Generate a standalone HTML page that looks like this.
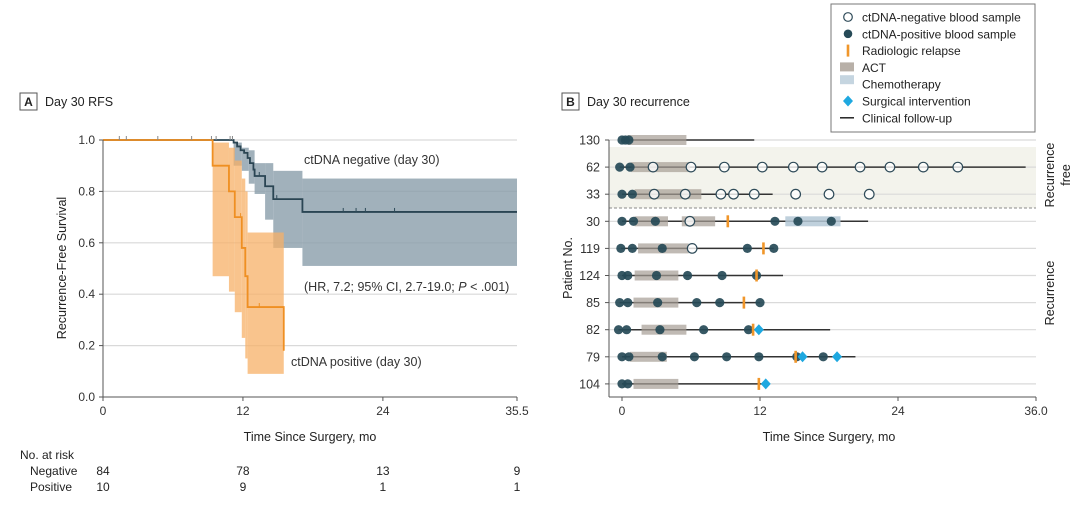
<!DOCTYPE html>
<html><head><meta charset="utf-8"><style>
body{margin:0;background:#fff;}
svg{display:block;font-family:"Liberation Sans",sans-serif;}
</style></head><body>
<svg id="chart" width="1080" height="514" viewBox="0 0 1080 514"></svg>
<script>
// ---------- Panel A data ----------
const posTimes=[0,9.4,10.8,11.3,11.9,12.2,12.4,15.5];
const posSurv=[1.0,0.9,0.8,0.7,0.58,0.47,0.35,0.18];
const posCiStart=[9.4,10.8,11.3,11.9,12.2,12.4];
const posCiEnd=[10.8,11.3,11.9,12.2,12.4,15.5];
const posCiLo=[0.47,0.41,0.33,0.23,0.15,0.09];
const posCiHi=[0.99,0.97,0.92,0.85,0.80,0.64];
const negTimes=[0,11.2,11.5,11.8,12.1,12.4,12.6,12.9,13.0,13.9,14.6,17.1,35.5];
const negSurv=[1.0,0.99,0.975,0.96,0.95,0.93,0.91,0.885,0.86,0.82,0.77,0.72,0.72];
const negCiStart=[11.2,11.9,12.5,13.0,13.9,14.6,17.1];
const negCiEnd=[11.9,12.5,13.0,13.9,14.6,17.1,35.5];
const negCiLo=[0.90,0.88,0.83,0.79,0.69,0.58,0.51];
const negCiHi=[0.99,0.97,0.96,0.91,0.91,0.88,0.85];
const censorTopTimes=[1.4,2.0,4.7,7.6,9.3,9.7,10.9,11.1];
const negCensorTimes=[13.4,14.9,20.6,21.7,22.5,25.0];
const negCensorVals=[0.86,0.77,0.72,0.72,0.72,0.72];
const posCensorTimes=[11.8,13.4];
const posCensorVals=[0.7,0.35];
const aXTicks=[0,12,24,35.5];
const aYTicks=[0,0.2,0.4,0.6,0.8,1.0];
const riskNeg=[84,78,13,9];
const riskPos=[10,9,1,1];
// ---------- Panel B data ----------
const patients=["130","62","33","30","119","124","85","82","79","104"];
const followStart=[0,-0.2,0,0,-0.1,0,-0.2,-0.3,0,0];
const followEnd=[11.5,35.1,13.1,21.4,13.2,14.0,12.0,18.1,20.3,12.5];
const actStart=[[0.5],[0.8],[1.1],[1.1,5.2],[1.4],[1.1],[1.0],[1.7],[0.7],[1.0]];
const actEnd=[[5.6],[5.9],[6.9],[4.0,8.1],[5.8],[4.9],[4.9],[5.6],[3.9],[4.9]];
const chemoStart=[[],[],[],[14.2],[],[],[],[],[],[]];
const chemoEnd=[[],[],[],[19.0],[],[],[],[],[],[]];
const posSamples=[[0,0.3,0.6],[-0.2,0.7],[0,0.9],[0,1.0,2.9,13.3,15.3,18.2],[-0.1,0.9,3.5,10.9,13.2],[0,0.5,3.0,5.7,8.7,11.7],[-0.2,0.5,3.1,6.5,8.5,12.0],[-0.3,0.4,3.3,7.1,11.0],[0,0.6,3.5,6.3,9.1,11.9,15.2,17.5],[0,0.5]];
const negSamples=[[],[2.7,6.0,8.9,12.2,14.9,17.4,20.7,23.3,26.2,29.2],[2.8,5.5,8.6,9.7,11.5,15.1,18.0,21.5],[5.9],[6.1],[],[],[],[],[]];
const relapses=[[],[],[],[9.2],[12.3],[11.7],[10.6],[11.4],[15.1],[11.9]];
const surgeries=[[],[],[],[],[],[],[],[11.9],[15.7,18.7],[12.5]];
const bXTicks=[0,12,24,36];

const svg=document.getElementById('chart');
const NS='http://www.w3.org/2000/svg';
function mk(tag,attrs,parent,text){const e=document.createElementNS(NS,tag);for(const k in attrs)e.setAttribute(k,attrs[k]);if(text!==undefined)e.textContent=text;(parent||svg).appendChild(e);return e;}

// ---------- Panel A ----------
const ax=t=>103+t*(517-103)/35.5;
const ay=v=>397-v*(397-140);
const gA=mk('g',{});


let r=mk('rect',{x:20,y:93,width:17,height:17,fill:'#fff',stroke:'#555'},gA);

let t=mk('text',{x:28.5,y:106,'font-size':12,'font-weight':'bold','text-anchor':'middle',fill:'#222'},gA,'A');

t=mk('text',{x:45,y:106,'font-size':12.5,fill:'#222'},gA,'Day 30 RFS');

aYTicks.forEach(v=>{
 if(v>0){const l=mk('line',{x1:ax(0),x2:ax(35.5),y1:ay(v),y2:ay(v),stroke:'#d9d9d9','stroke-width':1.2},gA);
 }
 mk('line',{x1:ax(0)-4,x2:ax(0),y1:ay(v),y2:ay(v),stroke:'#555'},gA);
 const tx=mk('text',{x:95,y:ay(v)+4,'font-size':12,'text-anchor':'end',fill:'#333'},gA,v.toFixed(1));
 
});
aXTicks.forEach(v=>{
 mk('line',{x1:ax(v),x2:ax(v),y1:397,y2:401,stroke:'#555'},gA);
 const tx=mk('text',{x:ax(v),y:415,'font-size':12,'text-anchor':'middle',fill:'#333'},gA,String(v));
 
});
negCiStart.forEach((s,i)=>{const b=mk('rect',{x:ax(s),y:ay(negCiHi[i]),width:ax(negCiEnd[i])-ax(s),height:ay(negCiLo[i])-ay(negCiHi[i]),fill:'#8a9eaa','fill-opacity':0.8},gA);
 });
posCiStart.forEach((s,i)=>{const b=mk('rect',{x:ax(s),y:ay(posCiHi[i]),width:ax(posCiEnd[i])-ax(s),height:ay(posCiLo[i])-ay(posCiHi[i]),fill:'#f7b067','fill-opacity':0.75},gA);
 });
function stepPath(ts,vs){let d='M'+ax(ts[0])+','+ay(vs[0]);for(let i=1;i<ts.length;i++){d+=' H'+ax(ts[i])+' V'+ay(vs[i]);}return d;}
let p=mk('path',{d:stepPath(negTimes,negSurv),fill:'none',stroke:'#2a4553','stroke-width':1.8},gA);

p=mk('path',{d:stepPath(posTimes,posSurv),fill:'none',stroke:'#ef8f22','stroke-width':1.8},gA);

censorTopTimes.forEach(c=>mk('line',{x1:ax(c),x2:ax(c),y1:ay(1)-4,y2:ay(1),stroke:'#888'},gA));
negCensorTimes.forEach((c,i)=>mk('line',{x1:ax(c),x2:ax(c),y1:ay(negCensorVals[i])-4,y2:ay(negCensorVals[i]),stroke:'#2f4b59'},gA));
posCensorTimes.forEach((c,i)=>mk('line',{x1:ax(c),x2:ax(c),y1:ay(posCensorVals[i])-4,y2:ay(posCensorVals[i]),stroke:'#ef8f22'},gA));
mk('line',{x1:ax(0),x2:ax(0),y1:140,y2:397,stroke:'#555'},gA);
mk('line',{x1:ax(0),x2:ax(35.5),y1:397,y2:397,stroke:'#555'},gA);
t=mk('text',{x:304,y:164,'font-size':12.5,fill:'#333'},gA,'ctDNA negative (day 30)');

t=mk('text',{x:304,y:291,'font-size':12.5,fill:'#333'},gA);
t.innerHTML='(HR, 7.2; 95% CI, 2.7-19.0; <tspan font-style="italic">P</tspan> &lt; .001)';

t=mk('text',{x:291,y:366,'font-size':12.5,fill:'#333'},gA,'ctDNA positive (day 30)');

t=mk('text',{x:310,y:441,'font-size':12.5,'text-anchor':'middle',fill:'#222'},gA,'Time Since Surgery, mo');

t=mk('text',{x:0,y:0,'font-size':12.5,'text-anchor':'middle',fill:'#222',transform:'translate(66,268) rotate(-90)'},gA,'Recurrence-Free Survival');

t=mk('text',{x:20,y:459,'font-size':12,fill:'#222'},gA,'No. at risk');

t=mk('text',{x:30,y:475,'font-size':12,fill:'#222'},gA,'Negative');

t=mk('text',{x:30,y:491,'font-size':12,fill:'#222'},gA,'Positive');

aXTicks.forEach((v,i)=>{
 let a=mk('text',{x:ax(v),y:475,'font-size':12,'text-anchor':'middle',fill:'#222'},gA,String(riskNeg[i]));
 
 a=mk('text',{x:ax(v),y:491,'font-size':12,'text-anchor':'middle',fill:'#222'},gA,String(riskPos[i]));
 
});

// ---------- Panel B ----------
const bx=m=>622+m*(1036-622)/36;
const rowY=i=>140+i*27.1;
const gB=mk('g',{});


r=mk('rect',{x:562,y:93,width:17,height:17,fill:'#fff',stroke:'#555'},gB);

t=mk('text',{x:570.5,y:106,'font-size':12,'font-weight':'bold','text-anchor':'middle',fill:'#222'},gB,'B');

t=mk('text',{x:587,y:106,'font-size':12.5,fill:'#222'},gB,'Day 30 recurrence');

r=mk('rect',{x:609,y:147,width:427,height:61,fill:'#f3f3ec'},gB);

mk('line',{x1:609,x2:1036,y1:208,y2:208,stroke:'#888','stroke-dasharray':'3,2'},gB);
patients.forEach((pt,i)=>{
 const y=rowY(i);
 mk('line',{x1:609,x2:1036,y1:y,y2:y,stroke:'#dadada','stroke-width':1.2},gB);
 mk('line',{x1:605,x2:609,y1:y,y2:y,stroke:'#555'},gB);
 const lb=mk('text',{x:600,y:y+4.5,'font-size':12.5,'text-anchor':'end',fill:'#333'},gB,pt);
 
 const fl=mk('line',{x1:bx(followStart[i]),x2:bx(followEnd[i]),y1:y,y2:y,stroke:'#333','stroke-width':1.5},gB);
 
 actStart[i].forEach((s,j)=>{const a=mk('rect',{x:bx(s),y:y-5,width:bx(actEnd[i][j])-bx(s),height:10,fill:'#a59d94','fill-opacity':0.7},gB);
  });
 chemoStart[i].forEach((s,j)=>{const a=mk('rect',{x:bx(s),y:y-5,width:bx(chemoEnd[i][j])-bx(s),height:10,fill:'#b4c8d6','fill-opacity':0.85},gB);
  });
 posSamples[i].forEach(m=>{const c=mk('circle',{cx:bx(m),cy:y,r:4.6,fill:'#264a57','fill-opacity':0.92},gB);
  });
 negSamples[i].forEach(m=>{const c=mk('circle',{cx:bx(m),cy:y,r:4.8,fill:'#fff','fill-opacity':0.8,stroke:'#2f4b59','stroke-width':1.2},gB);
  });
 relapses[i].forEach(m=>{const c=mk('rect',{x:bx(m)-1.3,y:y-6,width:2.6,height:12,fill:'#f0962a'},gB);
  });
 surgeries[i].forEach(m=>{const x=bx(m);const c=mk('path',{d:`M${x},${y-5.5} L${x+5},${y} L${x},${y+5.5} L${x-5},${y} Z`,fill:'#1ea8e0'},gB);
  });
});
mk('line',{x1:609,x2:609,y1:140,y2:397,stroke:'#555'},gB);
mk('line',{x1:609,x2:1036,y1:397,y2:397,stroke:'#555'},gB);
bXTicks.forEach(v=>{
 mk('line',{x1:bx(v),x2:bx(v),y1:397,y2:401,stroke:'#555'},gB);
 const tx=mk('text',{x:bx(v),y:415,'font-size':12,'text-anchor':'middle',fill:'#333'},gB,v===36?'36.0':String(v));
 
});
t=mk('text',{x:829,y:441,'font-size':12.5,'text-anchor':'middle',fill:'#222'},gB,'Time Since Surgery, mo');

t=mk('text',{x:0,y:0,'font-size':12.5,'text-anchor':'middle',fill:'#222',transform:'translate(572,268) rotate(-90)'},gB,'Patient No.');

t=mk('text',{x:0,y:0,'font-size':12.5,'text-anchor':'middle',fill:'#222',transform:'translate(1054,175) rotate(-90)'},gB,'Recurrence');

t=mk('text',{x:0,y:0,'font-size':12.5,'text-anchor':'middle',fill:'#222',transform:'translate(1070,175) rotate(-90)'},gB,'free');

t=mk('text',{x:0,y:0,'font-size':12.5,'text-anchor':'middle',fill:'#222',transform:'translate(1054,293) rotate(-90)'},gB,'Recurrence');


// Legend
const gL=mk('g',{});


mk('rect',{x:831,y:4,width:204,height:128,fill:'#fff',stroke:'#777'},gL);
const legendLabels=['ctDNA-negative blood sample','ctDNA-positive blood sample','Radiologic relapse','ACT','Chemotherapy','Surgical intervention','Clinical follow-up'];
legendLabels.forEach((lab,i)=>{
 const y=17+i*16.8;const x=848;
 if(i===0)mk('circle',{cx:x,cy:y,r:4.3,fill:'#fff',stroke:'#2f4b59','stroke-width':1.2},gL);
 if(i===1)mk('circle',{cx:x,cy:y,r:4.3,fill:'#264a57'},gL);
 if(i===2)mk('rect',{x:x-1.3,y:y-6,width:2.6,height:12,fill:'#f0962a'},gL);
 if(i===3)mk('rect',{x:x-8,y:y-5,width:14,height:9,fill:'#b8b0a8'},gL);
 if(i===4)mk('rect',{x:x-8,y:y-9,width:14,height:9,fill:'#c5d5e0'},gL);
 if(i===5)mk('path',{d:`M${x},${y-5.5} L${x+5},${y} L${x},${y+5.5} L${x-5},${y} Z`,fill:'#1ea8e0'},gL);
 if(i===6)mk('line',{x1:x-8,x2:x+6,y1:y,y2:y,stroke:'#222','stroke-width':1.5},gL);
 const lt=mk('text',{x:862,y:y+4.5,'font-size':12,fill:'#222'},gL,lab);
 
});
</script>
</body></html>
